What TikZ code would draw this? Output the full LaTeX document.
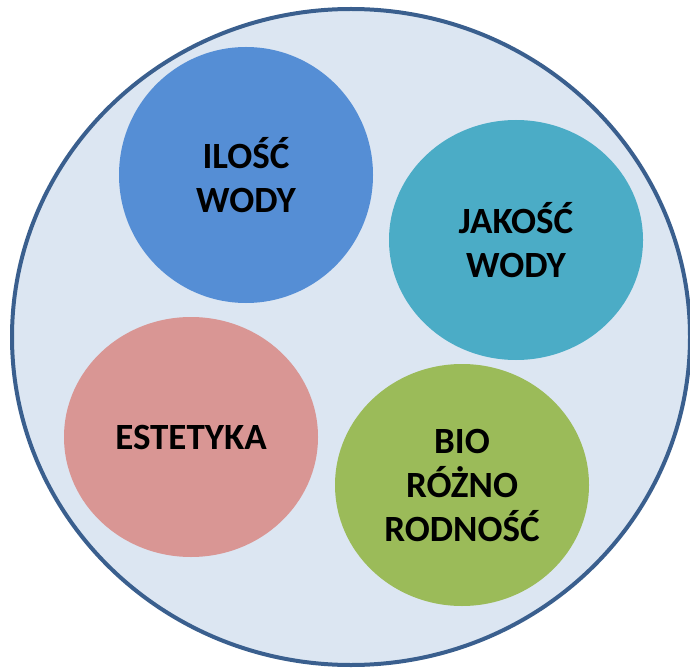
\documentclass[tikz,border=0pt]{standalone}
\usepackage{fontspec}
\setmainfont{Carlito}
\usetikzlibrary{shapes.geometric}
\definecolor{outerfill}{HTML}{DCE6F2}
\definecolor{outerline}{HTML}{3A5F8E}
\definecolor{iloscfill}{HTML}{558ED5}
\definecolor{jakoscfill}{HTML}{4BACC6}
\definecolor{estetfill}{HTML}{D99694}
\definecolor{biofill}{HTML}{9BBB59}
\tikzset{
  topic/.style={ellipse,inner sep=0pt,minimum width=254pt,align=center,
    font=\fontsize{37}{44}\selectfont\bfseries,text=black}
}

\begin{document}
\begin{tikzpicture}[x=1pt,y=-1pt]
            \useasboundingbox (0,0) rectangle (690,668);
            % outer field
            \node (outer) [ellipse,draw=outerline,line width=4pt,fill=outerfill,
              minimum width=678pt,minimum height=656pt] at (351,337) {};

            % topics
            \node (ilosc) [topic,fill=iloscfill,minimum height=256pt] at (246,175) {ILOŚĆ\\WODY};
            \node (jakosc) [topic,fill=jakoscfill,minimum height=240pt] at (516,240) {JAKOŚĆ\\WODY};
            \node (estetyka) [topic,fill=estetfill,minimum height=240pt] at (191,437) {ESTETYKA};
            \node (bio) [topic,fill=biofill,minimum height=242pt] at (462,485) {BIO\\RÓŻNO\\RODNOŚĆ};
        \end{tikzpicture}
\end{document}
